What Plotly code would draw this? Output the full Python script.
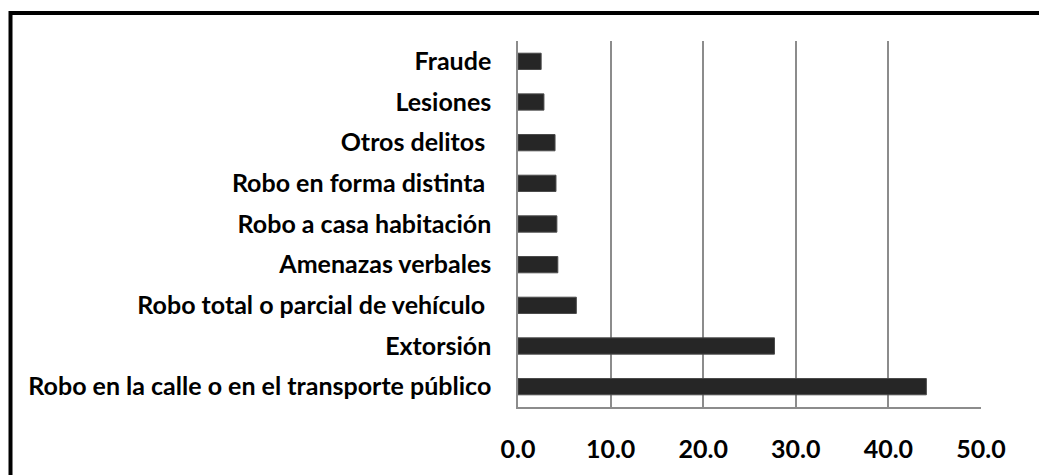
import plotly.graph_objects as go

# Delitos (de abajo hacia arriba)
categorias = [
    "Robo en la calle o en el transporte público",
    "Extorsión",
    "Robo total o parcial de vehículo ",
    "Amenazas verbales",
    "Robo a casa habitación",
    "Robo en forma distinta ",
    "Otros delitos ",
    "Lesiones",
    "Fraude",
]
valores = [44.1, 27.7, 6.3, 4.3, 4.2, 4.1, 4.0, 2.8, 2.5]
ticks_x = [0, 10, 20, 30, 40, 50]
etiquetas_x = ["0.0", "10.0", "20.0", "30.0", "40.0", "50.0"]

fuente = dict(family="Lato, 'Open Sans', sans-serif", size=25, color="black")


def negrita(txt):
    # los espacios finales se conservan con espacio duro
    if txt.endswith(" "):
        txt = txt.rstrip() + "\u00a0"
    return "<b>%s</b>" % txt


fig = go.Figure(go.Bar(
    x=valores,
    y=categorias,
    orientation="h",
    marker=dict(color="#262626", line=dict(color="#4a4a4a", width=1)),
    width=0.4,
))

fig.update_layout(
    width=1039,
    height=475,
    margin=dict(l=518, r=58, t=41, b=63),
    paper_bgcolor="white",
    plot_bgcolor="white",
    showlegend=False,
    font=fuente,
    xaxis=dict(
        range=[0, 50],
        tickvals=ticks_x,
        ticktext=[negrita(t) for t in etiquetas_x],
        showgrid=True,
        gridcolor="#8c8c8c",
        gridwidth=1.5,
        showline=True,
        linecolor="#8c8c8c",
        linewidth=1.5,
        zeroline=False,
        ticks="",
        ticklabelstandoff=19,
    ),
    yaxis=dict(
        type="category",
        categoryorder="array",
        categoryarray=categorias,
        tickvals=categorias,
        ticktext=[negrita(c) for c in categorias],
        showgrid=False,
        showline=True,
        linecolor="#8c8c8c",
        linewidth=1.5,
        ticks="",
        ticklabelstandoff=20,
    ),
)

# Borde negro del recuadro (solo se ven arriba e izquierda)
fig.add_shape(
    type="rect", xref="paper", yref="paper",
    x0=-1.0961, x1=1.5, y0=-0.5, y1=1.0768,
    line=dict(color="black", width=4),
    layer="below",
)

# sin margen en el body para que la figura ocupe toda la ventana
fig.write_html("out.html", config={"displayModeBar": False},
               post_script="document.body.style.margin='0';")
